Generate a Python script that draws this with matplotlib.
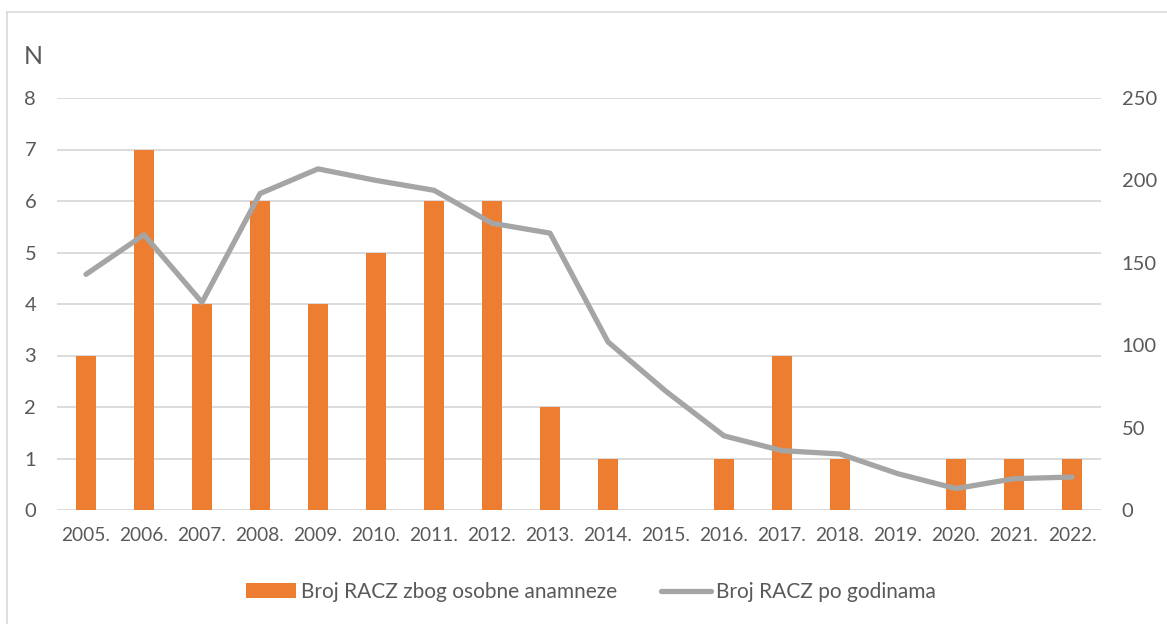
import matplotlib
matplotlib.use("Agg")
import matplotlib.pyplot as plt
from matplotlib.lines import Line2D
from matplotlib.patches import Patch

plt.rcParams['font.family'] = ['Lato', 'DejaVu Sans']

years = ["2005.", "2006.", "2007.", "2008.", "2009.", "2010.", "2011.", "2012.", "2013.",
         "2014.", "2015.", "2016.", "2017.", "2018.", "2019.", "2020.", "2021.", "2022."]
racz_anamneza = [3, 7, 4, 6, 4, 5, 6, 6, 2, 1, 0, 1, 3, 1, 0, 1, 1, 1]
racz_godine = [143, 167, 126, 192, 207, 200, 194, 174, 168, 102, 72, 45, 36, 34, 22, 13, 19, 20]

left_ticks = [0, 1, 2, 3, 4, 5, 6, 7, 8]
right_ticks = [0, 50, 100, 150, 200, 250]

label_bar = "Broj RACZ zbog osobne anamneze"
label_line = "Broj RACZ po godinama"

ORANGE = "#ED7D31"
GRAY = "#A5A5A5"
TEXT = "#595959"
GRID = "#D9D9D9"

fig = plt.figure(figsize=(11.67, 6.24), dpi=100)
ax = fig.add_axes([57 / 1167, 1 - 510 / 624, 1044 / 1167, 412 / 624])
ax2 = ax.twinx()

x = list(range(len(years)))
ax.bar(x, racz_anamneza, width=0.34, color=ORANGE, zorder=2)
ax2.plot(x, racz_godine, color=GRAY, linewidth=3.8, solid_joinstyle='round',
         solid_capstyle='round', zorder=3)

ax.set_xlim(-0.5, len(years) - 0.5)
ax.set_ylim(0, 8)
ax2.set_ylim(0, 250)
ax.set_yticks(left_ticks)
ax2.set_yticks(right_ticks)
ax.set_xticks(x)
ax.set_xticklabels(years)

for a in (ax, ax2):
    for s in a.spines.values():
        s.set_visible(False)
    a.tick_params(length=0, labelsize=14.5, colors=TEXT)

ax.tick_params(axis='x', labelsize=13.8, pad=12)
ax.yaxis.grid(True, color=GRID, linewidth=1.3, zorder=0)
ax.set_axisbelow(True)
ax.tick_params(axis='y', pad=15)
ax2.tick_params(axis='y', pad=15)

fig.text(33 / 1167, 1 - 57 / 624, "N", fontsize=18, color=TEXT, ha='center', va='center')

handles = [Patch(facecolor=ORANGE, edgecolor='none'),
           Line2D([0], [0], color=GRAY, linewidth=3.8, solid_capstyle='round')]
fig.legend(handles, [label_bar, label_line], loc='center', ncol=2,
           bbox_to_anchor=(591 / 1167, 1 - 592 / 624), frameon=False,
           fontsize=15, labelcolor=TEXT, handlelength=2.4, handleheight=0.75,
           handletextpad=0.25, columnspacing=2.1)

# outer chart frame
fig.add_artist(Line2D([7 / 1167, 7 / 1167], [0, 1 - 12 / 624], color=GRID,
                      linewidth=1.2, transform=fig.transFigure))
fig.add_artist(Line2D([7 / 1167, 1], [1 - 12 / 624, 1 - 12 / 624], color=GRID,
                      linewidth=1.2, transform=fig.transFigure))

fig.savefig("out.png", dpi=100, facecolor="white")
